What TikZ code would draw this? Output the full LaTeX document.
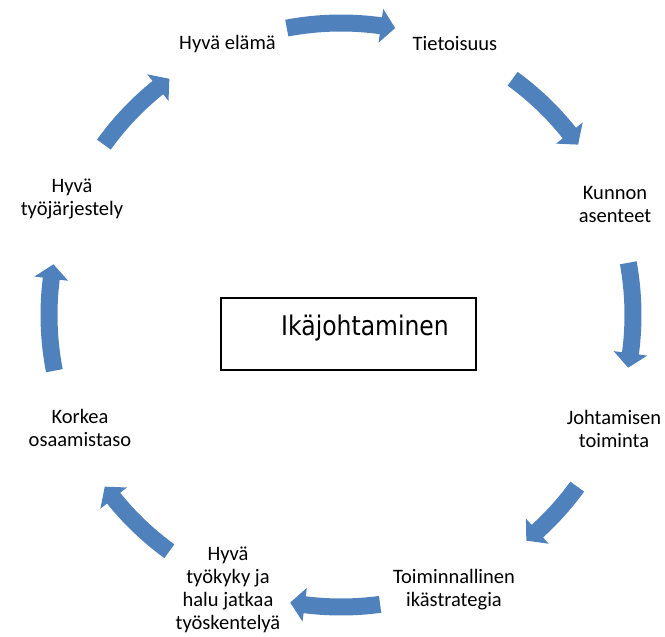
\documentclass[tikz,border=0pt]{standalone}
\usepackage{fontspec}
\setmainfont{Carlito}
\newfontfamily\boxfont[FakeStretch=0.87]{DejaVu Sans}
\definecolor{arrowblue}{HTML}{4F81BD}

% curved block arrow on the cycle: #1 = tail angle, #2 = tip angle (clockwise run)
\newcommand\cyclearrow[2]{%
  \pgfmathsetmacro\headbase{#2+2.85}%
  \fill[arrowblue] (#1:300.5) arc[start angle=#1, end angle=\headbase, radius=300.5]
    -- (\headbase:309) -- (#2:292) -- (\headbase:275) -- (\headbase:283.5)
    arc[start angle=\headbase, end angle=#1, radius=283.5] -- cycle;}

\begin{document}
\begin{tikzpicture}[x=1pt,y=1pt,
  lbl/.style={align=center, font=\fontsize{20.5}{23}\selectfont, inner sep=0pt},
  titlebox/.style={draw=black, line width=1.5pt, minimum width=255, minimum height=72, inner sep=0pt},
  titletext/.style={font=\boxfont\fontsize{27}{30}\selectfont, inner sep=0pt, anchor=base}]
\useasboundingbox (0,0) rectangle (665,-637);

% arrows around the cycle
\begin{scope}[shift={(341,-315)}]
  \cyclearrow{100.7}{79.3}
  \cyclearrow{54}{35.7}
  \cyclearrow{10.3}{-10.4}
  \cyclearrow{-36}{-50.6}
  \cyclearrow{-82.3}{-100}
  \cyclearrow{-126}{-144}
  \cyclearrow{-169}{-190}
  \cyclearrow{-215.7}{-234}
\end{scope}

% stages of the cycle
\node[lbl] (elama)    at (227.5,-44) {Hyvä elämä};
\node[lbl] (tieto)    at (455,-44)   {Tietoisuus};
\node[lbl] (asenne)   at (615,-204)  {Kunnon\\asenteet};
\node[lbl] (johto)    at (614,-429)  {Johtamisen\\toiminta};
\node[lbl] (strat)    at (454,-590)  {Toiminnallinen\\ikästrategia};
\node[lbl] (tyokyky)  at (228,-590)  {Hyvä\\työkyky ja\\halu jatkaa\\työskentelyä};
\node[lbl] (osaaminen) at (80,-428)  {Korkea\\osaamistaso};
\node[lbl] (jarjestely) at (72,-199) {Hyvä\\työjärjestely};

% central title
\node[titlebox] (box) at (348.5,-334) {};
\node[titletext] (title) at (365,-335) {Ikäjohtaminen};
\end{tikzpicture}
\end{document}
